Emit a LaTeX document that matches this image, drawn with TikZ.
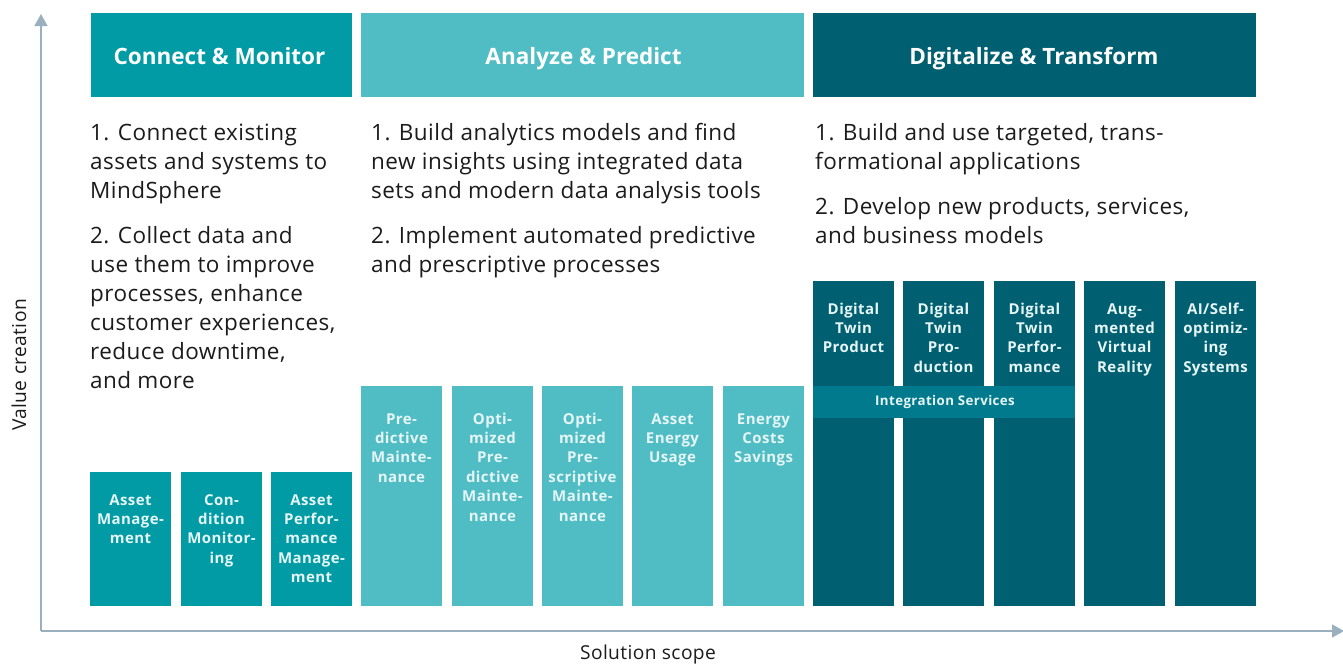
\documentclass[tikz,border=0pt]{standalone}
\usepackage{fontspec}
\setmainfont{Open Sans}
\newfontfamily\bodyfont[LetterSpace=2]{Open Sans}
\newfontfamily\headfont{Open Sans}
\newfontfamily\tilefont[LetterSpace=3]{Open Sans}
\usetikzlibrary{arrows.meta}
\definecolor{tealA}{HTML}{009BA4}
\definecolor{tealB}{HTML}{50BDC5}
\definecolor{tealC}{HTML}{005F70}
\definecolor{tealI}{HTML}{007A8C}
\definecolor{axisc}{HTML}{9AB0BF}
\definecolor{inkc}{HTML}{1B1B1B}
\definecolor{tilet}{HTML}{E6F5F6}
\tikzset{
  box/.style={draw=none,inner sep=0pt,outer sep=0pt},
  headtext/.style={anchor=base,inner sep=0pt,text=white,font=\headfont\fontsize{22.5}{28}\selectfont\bfseries},
  bodytext/.style={anchor=base west,inner sep=0pt,text=inkc,font=\bodyfont\fontsize{22.5}{29}\selectfont},
  tiletext/.style={anchor=base,inner sep=0pt,text=tilet,font=\tilefont\fontsize{15}{19.4}\selectfont\bfseries},
  axislabel/.style={inner sep=0pt,text=inkc,font=\bodyfont\fontsize{19.2}{22}\selectfont},
  axisline/.style={draw=axisc,line width=1.4pt,-{Triangle[length=12pt,width=13pt]}}
}
% name, x0, y0, x1, y1, colour
\newcommand{\tile}[6]{\fill[#6] (#2,#3) rectangle (#4,#5);\coordinate (#1) at ({(#2+#4)/2},#3);}
\newcommand{\tilelabel}[4]{\node[tiletext] (#1t) at ([yshift=-#2]#1) {\parbox[t]{#3pt}{\centering #4}};}
\begin{document}
\begin{tikzpicture}[x=1pt,y=-1pt]
\useasboundingbox (0,0) rectangle (1343,664);
% axes
\coordinate (origin) at (41,631);
\coordinate (ytop) at (41,14);
\coordinate (xend) at (1344,631);
\draw[axisline] (origin) -- (ytop);
\draw[axisline] (origin) -- (xend);
\node[axislabel,rotate=90] (ylab) at (19,365) {Value creation};
\node[axislabel,anchor=base] (xlab) at (648,659) {Solution scope};
% headers
\node[box,fill=tealA,minimum width=261pt,minimum height=84pt] (h1) at (221.5,55) {};
\node[box,fill=tealB,minimum width=443pt,minimum height=84pt] (h2) at (582.5,55) {};
\node[box,fill=tealC,minimum width=443pt,minimum height=84pt] (h3) at (1034.5,55) {};
\node[headtext] (h1t) at (219.5,64) {Connect \& Monitor};
\node[headtext] (h2t) at (583.5,64) {Analyze \& Predict};
\node[headtext] (h3t) at (1034,64) {Digitalize \& Transform};
% body
\node[bodytext] (a1) at (90,140) {\parbox[t]{260pt}{\raggedright 1. Connect existing\\assets and systems to\\MindSphere}};
\node[bodytext] (a2) at (90,243) {\parbox[t]{270pt}{\raggedright 2. Collect data and\\use them to improve\\processes, enhance\\customer experiences,\\reduce downtime,\\and more}};
\node[bodytext] (b1) at (371,140) {\parbox[t]{420pt}{\raggedright 1. Build analytics models and find\\new insights using integrated data\\sets and modern data analysis tools}};
\node[bodytext] (b2) at (371,243) {\parbox[t]{420pt}{\raggedright 2. Implement automated predictive\\and prescriptive processes}};
\node[bodytext] (c1) at (815,140) {\parbox[t]{420pt}{\raggedright 1. Build and use targeted, trans-\\formational applications}};
\node[bodytext] (c2) at (815,214) {\parbox[t]{420pt}{\raggedright 2. Develop new products, services,\\and business models}};
% tiles row A
\tile{ta1}{90}{472}{171}{606}{tealA}
\tile{ta2}{181}{472}{262}{606}{tealA}
\tile{ta3}{271}{472}{352}{606}{tealA}
\tilelabel{ta1}{33pt}{81}{Asset\\Manage-\\ment}
\tilelabel{ta2}{33pt}{81}{Con-\\dition\\Monitor-\\ing}
\tilelabel{ta3}{33pt}{81}{Asset\\Perfor-\\mance\\Manage-\\ment}
% tiles row B
\tile{tb1}{361}{386}{442}{606}{tealB}
\tile{tb2}{452}{386}{533}{606}{tealB}
\tile{tb3}{542}{386}{623}{606}{tealB}
\tile{tb4}{632}{386}{713}{606}{tealB}
\tile{tb5}{723}{386}{804}{606}{tealB}
\tilelabel{tb1}{38pt}{81}{Pre-\\dictive\\Mainte-\\nance}
\tilelabel{tb2}{38pt}{81}{Opti-\\mized\\Pre-\\dictive\\Mainte-\\nance}
\tilelabel{tb3}{38pt}{81}{Opti-\\mized\\Pre-\\scriptive\\Mainte-\\nance}
\tilelabel{tb4}{38pt}{81}{Asset\\Energy\\Usage}
\tilelabel{tb5}{38pt}{81}{Energy\\Costs\\Savings}
% tiles row C
\tile{tc1}{813}{281}{894}{606}{tealC}
\tile{tc2}{903}{281}{984}{606}{tealC}
\tile{tc3}{994}{281}{1075}{606}{tealC}
\tile{tc4}{1084}{281}{1165}{606}{tealC}
\tile{tc5}{1175}{281}{1256}{606}{tealC}
\tilelabel{tc1}{33pt}{81}{Digital\\Twin\\Product}
\tilelabel{tc2}{33pt}{81}{Digital\\Twin\\Pro-\\duction}
\tilelabel{tc3}{33pt}{81}{Digital\\Twin\\Perfor-\\mance}
\tilelabel{tc4}{33pt}{81}{Aug-\\mented\\Virtual\\Reality}
\tilelabel{tc5}{33pt}{81}{AI/Self-\\optimiz-\\ing\\Systems}
% integration
\node[box,fill=tealI,minimum width=262pt,minimum height=32pt] (integ) at (944,402) {};
\node[anchor=base,inner sep=0pt,text=tilet,font=\tilefont\fontsize{13.3}{16}\selectfont\bfseries] (integt) at (945,405) {Integration Services};
\end{tikzpicture}
\end{document}
